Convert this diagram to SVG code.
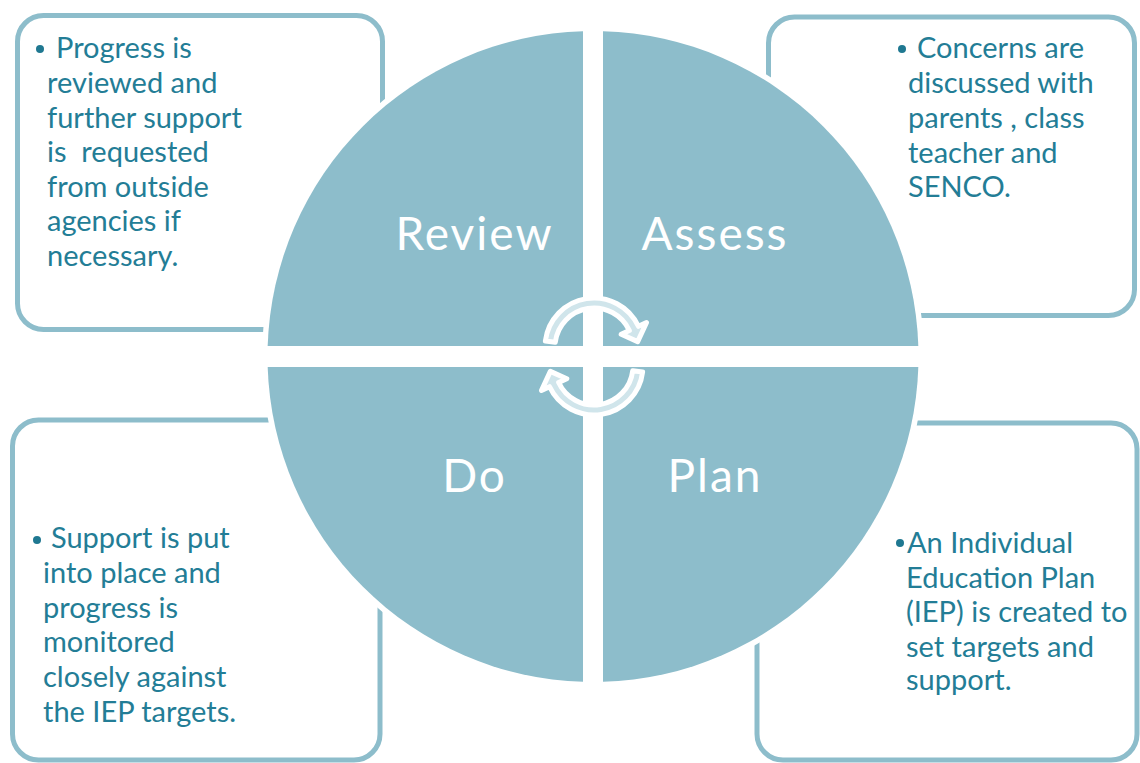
<svg xmlns="http://www.w3.org/2000/svg" width="1140" height="763" viewBox="0 0 1140 763">
<style>
.box{fill:#ffffff;stroke:#8dbdcb;stroke-width:5}
.quad{fill:#8dbdcb;stroke:#ffffff;stroke-width:11;paint-order:stroke}
.lbl{font-family:Lato,"Open Sans",sans-serif;font-size:46px;letter-spacing:2px;fill:#ffffff;text-anchor:middle}
.txt{font-family:Lato,"Open Sans",sans-serif;font-size:29px;fill:#237d96}
.dot{fill:#1f7891}
.arrow{fill:#d0e5eb;stroke:#ffffff;stroke-width:5;stroke-linejoin:round}
</style>
<rect width="1140" height="763" fill="#ffffff"/>
<g id="box-review">
<rect class="box" x="17.5" y="15.5" width="365" height="314" rx="26"/>
<circle class="dot" cx="40" cy="49" r="4"/>
<text class="txt" xml:space="preserve"><tspan x="56" y="58">Progress is</tspan><tspan x="47" y="93">reviewed and</tspan><tspan x="47" y="128">further support</tspan><tspan x="47" y="162">is  requested</tspan><tspan x="47" y="197">from outside</tspan><tspan x="47" y="231">agencies if</tspan><tspan x="47" y="266">necessary.</tspan></text>
</g>
<g id="box-assess">
<rect class="box" x="768.5" y="17" width="366" height="298.5" rx="26"/>
<circle class="dot" cx="902" cy="49" r="4"/>
<text class="txt"><tspan x="917" y="58">Concerns are</tspan><tspan x="908" y="93">discussed with</tspan><tspan x="908" y="128">parents , class</tspan><tspan x="908" y="163">teacher and</tspan><tspan x="908" y="197">SENCO.</tspan></text>
</g>
<g id="box-do">
<rect class="box" x="12.5" y="420" width="367.5" height="340" rx="26"/>
<circle class="dot" cx="37" cy="540" r="4"/>
<text class="txt"><tspan x="51" y="548">Support is put</tspan><tspan x="43" y="583">into place and</tspan><tspan x="43" y="618">progress is</tspan><tspan x="43" y="652">monitored</tspan><tspan x="43" y="687">closely against</tspan><tspan x="43" y="722">the IEP targets.</tspan></text>
</g>
<g id="box-plan">
<rect class="box" x="757" y="423" width="380" height="337" rx="26"/>
<circle class="dot" cx="900" cy="543" r="4"/>
<text class="txt"><tspan x="907" y="553">An Individual</tspan><tspan x="906" y="588">Education Plan</tspan><tspan x="906" y="622">(IEP) is created to</tspan><tspan x="906" y="657">set targets and</tspan><tspan x="906" y="690">support.</tspan></text>
</g>
<g id="review">
<path class="quad" d="M583 346 L583 31.15 A325.5 325.5 0 0 0 267.67 346 Z"/>
<text class="lbl" x="474.5" y="250">Review</text>
</g>
<g id="assess">
<path class="quad" d="M603 346 L603 31.15 A325.5 325.5 0 0 1 918.33 346 Z"/>
<text class="lbl" x="715" y="250">Assess</text>
</g>
<g id="do">
<path class="quad" d="M583 367 L267.67 367 A325.5 325.5 0 0 0 583 681.85 Z"/>
<text class="lbl" x="474.5" y="492">Do</text>
</g>
<g id="plan">
<path class="quad" d="M603 367 L918.33 367 A325.5 325.5 0 0 1 603 681.85 Z"/>
<text class="lbl" x="715" y="492">Plan</text>
</g>
<g id="connectors">
<path class="arrow" d="M545.37 341.03 A49 49 0 0 1 638.41 326.29 L646.57 322.49 L637.67 341.64 L621.19 334.32 L629.35 330.52 A39 39 0 0 0 555.29 342.25 Z"/>
<path class="arrow" transform="rotate(180 594 356.5)" d="M545.37 341.03 A49 49 0 0 1 638.41 326.29 L646.57 322.49 L637.67 341.64 L621.19 334.32 L629.35 330.52 A39 39 0 0 0 555.29 342.25 Z"/>
</g>
</svg>
